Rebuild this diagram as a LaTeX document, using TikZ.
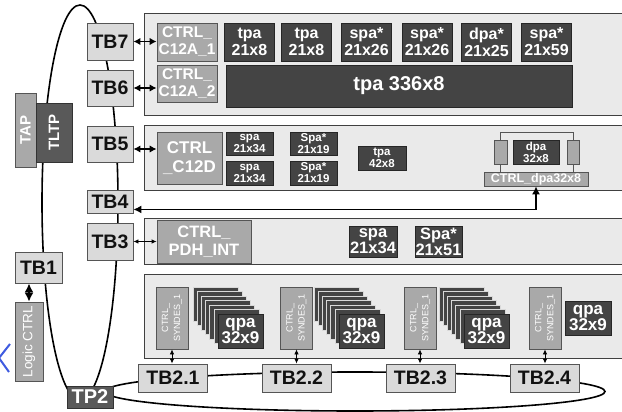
\documentclass[tikz,border=0pt]{standalone}
\usepackage{fontspec}
\setmainfont{Liberation Sans}
\usetikzlibrary{arrows.meta,positioning,calc,shapes.geometric}
\definecolor{ink}{HTML}{111111}
\definecolor{panelgray}{HTML}{EAEAEA}
\definecolor{boxgray}{HTML}{DADADA}
\definecolor{ctrlgray}{HTML}{A9A9A9}
\definecolor{blockgray}{HTML}{444444}
\definecolor{portgray}{HTML}{595959}
\definecolor{edgegray}{HTML}{555555}
\definecolor{strayblue}{HTML}{3F5BE0}

\newcommand{\tbfont}{\bfseries\fontsize{19.5}{20}\selectfont}
\newcommand{\blkfont}{\bfseries\fontsize{16}{17}\selectfont}
\newcommand{\smallblk}{\bfseries\fontsize{11.5}{12}\selectfont}

\tikzset{
  tbbox/.style={draw=edgegray, fill=boxgray, line width=0.9pt, text=ink, inner sep=0pt, font=\tbfont},
  panel/.style={draw=black!75, fill=panelgray, line width=0.9pt, anchor=north west, inner sep=0pt},
  ctrlbox/.style={draw=edgegray, fill=ctrlgray, line width=0.8pt, text=white, inner sep=0pt, align=center},
  block/.style={draw=black!85, fill=blockgray, line width=0.8pt, text=white, inner sep=0pt, align=center},
  layer/.style={draw=white!70!gray, fill=blockgray, line width=0.6pt, inner sep=0pt},
  ring/.style={draw=black, line width=1.6pt, ellipse, inner sep=0pt},
  link/.style={line width=1.7pt, >={Latex[length=7pt,width=7.5pt]}, <->},
  thinlink/.style={line width=0.8pt, >={Latex[length=5pt,width=4.5pt]}, <->}
}

\begin{document}
\begin{tikzpicture}[x=1pt,y=-1pt]
\path[use as bounding box, fill=white] (0,0) rectangle (622,412);
\clip (0,0) rectangle (622,412);

% the two token rings
\node[ring, minimum width=76pt, minimum height=395pt] (ringA) at (80,202.5) {};
\node[ring, minimum width=500pt, minimum height=39pt] (ringB) at (355,391.5) {};

% panels
\node[panel, minimum width=490pt, minimum height=102pt] (rowA) at (144,13) {};
\node[panel, minimum width=490pt, minimum height=65pt] (rowB) at (144,125) {};
\node[panel, minimum width=490pt, minimum height=46pt] (rowC) at (144,218) {};
\node[panel, minimum width=490pt, minimum height=84pt] (rowD) at (144,274) {};

% left column
\node[tbbox, minimum width=46pt, minimum height=37pt] (tb7) at (110,41.5) {TB7};
\node[tbbox, minimum width=46pt, minimum height=36pt] (tb6) at (110,88) {TB6};
\node[tbbox, minimum width=46pt, minimum height=36pt] (tb5) at (110,144) {TB5};
\node[tbbox, minimum width=46pt, minimum height=23pt] (tb4) at (110,201.5) {TB4};
\node[tbbox, minimum width=46pt, minimum height=37pt] (tb3) at (110,241.5) {TB3};
\node[tbbox, minimum width=47pt, minimum height=31pt] (tb1) at (38.5,267.5) {TB1};
\node[ctrlbox, rotate=90, minimum width=74pt, minimum height=21pt, font=\bfseries\fontsize{15}{15}\selectfont] (tap) at (25.5,130) {TAP};
\node[ctrlbox, fill=portgray, draw=black!80, rotate=90, minimum width=59pt, minimum height=36pt, font=\bfseries\fontsize{15}{15}\selectfont] (tltp) at (54,132.5) {TLTP};
\node[ctrlbox, rotate=90, minimum width=79pt, minimum height=28pt, font=\fontsize{13.5}{14}\selectfont] (logic) at (29,341.5) {Logic CTRL};
\node[ctrlbox, fill=portgray, draw=black!80, minimum width=46pt, minimum height=22pt, font=\bfseries\fontsize{20}{20}\selectfont] (tp2) at (90,397) {TP2};
\foreach \x/\n in {173/1, 296.5/2, 420.5/3, 544.5/4}
  \node[tbbox, minimum width=69pt, minimum height=28pt] (tb2\n) at (\x,378) {TB2.\n};

% TB7 / TB6 panel
\node[ctrlbox, minimum width=60pt, minimum height=38pt, font=\bfseries\fontsize{15.5}{17}\selectfont] (ctrlA1) at (187,42) {CTRL\_\\C12A\_1};
\node[ctrlbox, minimum width=60pt, minimum height=37pt, font=\bfseries\fontsize{15.5}{17}\selectfont] (ctrlA2) at (187,83.5) {CTRL\_\\C12A\_2};
\foreach \x/\txt [count=\i] in {249.5/{tpa\\21x8}, 306.5/{tpa\\21x8}, 366.5/{spa*\\21x26}, 427/{spa*\\21x26}, 486.5/{dpa*\\21x25}, 546.5/{spa*\\21x59}}
  \node[block, minimum width=50pt, minimum height=38pt, font=\blkfont] (a\i) at (\x,42) {\txt};
\node[block, minimum width=346pt, minimum height=42pt, font=\bfseries\fontsize{20}{20}\selectfont] (tpaL) at (399,86) {tpa 336x8};

% TB5 panel
\node[ctrlbox, minimum width=65pt, minimum height=52pt, font=\bfseries\fontsize{17}{19}\selectfont] (ctrlD) at (189.5,158) {CTRL\\\_C12D};
\node[block, minimum width=47pt, minimum height=23pt, font=\smallblk] (b1) at (249.5,143.5) {spa\\21x34};
\node[block, minimum width=47pt, minimum height=24pt, font=\smallblk] (b2) at (249.5,173) {spa\\21x34};
\node[block, minimum width=47pt, minimum height=23pt, font=\smallblk] (b3) at (313.5,143.5) {Spa*\\21x19};
\node[block, minimum width=47pt, minimum height=24pt, font=\smallblk] (b4) at (313.5,173) {Spa*\\21x19};
\node[block, minimum width=48pt, minimum height=24pt, font=\smallblk] (b5) at (382,158) {tpa\\42x8};
\node[block, minimum width=46pt, minimum height=24pt, font=\smallblk] (dpa) at (536,152) {dpa\\32x8};
\node[ctrlbox, minimum width=13pt, minimum height=24pt] (sideL) at (500.5,152) {};
\node[ctrlbox, minimum width=12pt, minimum height=24pt] (sideR) at (573,152) {};
\node[ctrlbox, minimum width=104pt, minimum height=14pt, font=\bfseries\fontsize{12.5}{13}\selectfont] (dpabar) at (536,179) {CTRL\_dpa32x8};
\draw[edgegray, line width=0.9pt] (sideL.north) -- ++(0,-7) -| (sideR.north);
\draw[edgegray, line width=0.9pt] (sideL.south) -- (sideL.south |- dpabar.north);
\draw[edgegray, line width=0.9pt] (sideR.south) -- (sideR.south |- dpabar.north);

% TB3 panel
\node[ctrlbox, minimum width=94pt, minimum height=43pt, font=\bfseries\fontsize{16.5}{18}\selectfont] (ctrlP) at (204,241.5) {CTRL\_\\PDH\_INT};
\node[block, minimum width=48pt, minimum height=31pt, font=\bfseries\fontsize{16.5}{14}\selectfont] (c1) at (373,241.5) {spa\\21x34};
\node[block, minimum width=47pt, minimum height=31pt, font=\bfseries\fontsize{16.5}{14}\selectfont] (c2) at (438.5,241.5) {Spa*\\21x51};

% TB2 panel
\foreach \x [count=\n] in {172, 296.5, 420, 545}
  \node[ctrlbox, rotate=90, minimum width=62pt, minimum height=32pt, font=\fontsize{9}{12}\selectfont] (sd\n) at (\x,318) {CTRL\_\\SYNDES\_1};
\foreach \fx [count=\n] in {240.5, 361.5, 486.5} {
  \foreach \k in {6,...,1}
    \node[layer, minimum width=45pt, minimum height=34pt] (s\n-\k) at (\fx-4.2*\k, 331-4.5*\k) {};
  \node[block, minimum width=45pt, minimum height=34pt, font=\bfseries\fontsize{17}{16}\selectfont] (q\n) at (\fx,331) {qpa\\32x9};
}
\node[block, minimum width=46pt, minimum height=34pt, font=\bfseries\fontsize{17}{16}\selectfont] (q4) at (588,318) {qpa\\32x9};

% links
\draw[link] (tb7.east) -- (tb7.east -| ctrlA1.west);
\draw[link] (tb6.east) -- (tb6.east -| ctrlA2.west);
\coordinate (b5in) at ($(tb5.east)+(0,5)$);
\draw[link] (b5in) -- (b5in -| ctrlD.west);
\draw[thinlink] (tb3.east) -- (tb3.east -| ctrlP.west);
\draw[line width=1.6pt, >={Latex[length=9pt,width=9pt]}, <->] (logic.east) -- (logic.east |- tb1.south);
\coordinate (tb4in) at ($(tb4.south east)+(0,-4)$);
\draw[line width=1.3pt, >={Latex[length=8pt,width=8pt]}, <->] (tb4in) -| (dpabar.south);
\foreach \n in {1,...,4}
  \draw[thinlink] (sd\n.west) -- (sd\n.west |- tb2\n.north);

% stray mark at the left edge
\draw[strayblue, line width=2pt] (10,344) -- (-1,358) -- (9,372);
\end{tikzpicture}
\end{document}
